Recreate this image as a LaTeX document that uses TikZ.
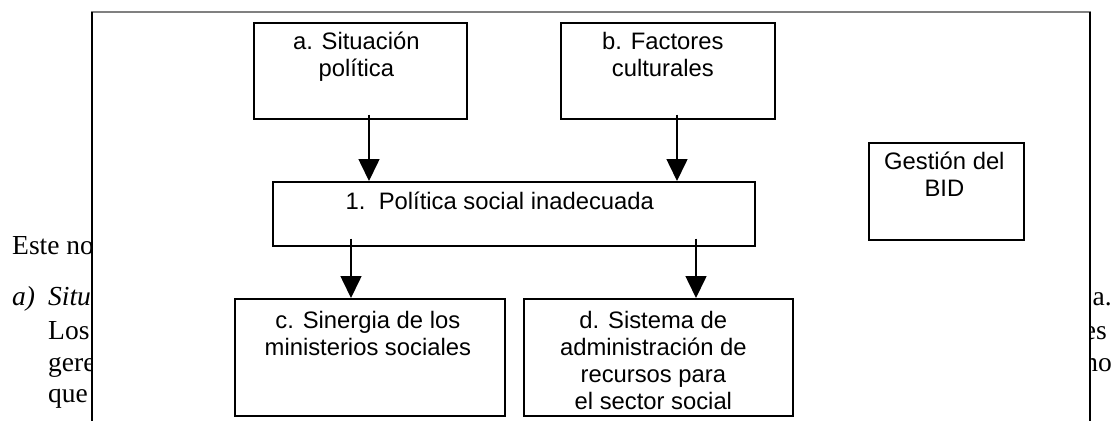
\documentclass[tikz,border=0pt]{standalone}
\usepackage{fontspec}
\setmainfont{Liberation Serif}
\newfontfamily\arial{Liberation Sans}
\usetikzlibrary{positioning, arrows.meta}
\definecolor{marco}{HTML}{808080}
\tikzstyle{Caja} = [draw, line width=1.7pt, anchor=north west, inner sep=0pt]
\tikzstyle{Texto} = [font=\arial\fontsize{23.8}{27}\selectfont, align=center, inner sep=0pt]
\tikzstyle{Cuerpo} = [font=\fontsize{27.5}{31}\selectfont, inner sep=0pt, anchor=base west]
\tikzstyle{Flecha} = [line width=1.6pt, -{Triangle[length=22pt, width=21pt]}]

\begin{document}
\begin{tikzpicture}[x=1pt, y=-1pt]
    \clip (0,0) rectangle (1115,420);
    \node[Cuerpo] (este) at (12,254) {Este no};
    \node[Cuerpo] (ia) at (12,305) {\textit{a)}};
    \node[Cuerpo] (situ) at (48,305) {\textit{Situ}};
    \node[Cuerpo] (los) at (48,339) {Los};
    \node[Cuerpo] (gere) at (48,371) {gere};
    \node[Cuerpo] (que) at (48,402) {que};
    \node[Cuerpo, anchor=base east] (ra) at (1112,305) {a.};
    \node[Cuerpo, anchor=base east] (res) at (1107,339) {es};
    \node[Cuerpo, anchor=base east] (rno) at (1112,371) {no};
    \fill[white] (92,12) rectangle (1090,440);
    \draw[line width=2pt, marco] (91,12) -- (1091,12);
    \draw[line width=1.5pt] (92,12) -- (92,440) (1090,12) -- (1090,440);
    \node[Caja, minimum width=213pt, minimum height=96pt] (sit) at (253,22) {};
    \node[Caja, minimum width=214pt, minimum height=96pt] (fac) at (560,22) {};
    \node[Caja, minimum width=482pt, minimum height=64pt] (pol) at (272,181) {};
    \node[Caja, minimum width=270pt, minimum height=117pt] (sin) at (234,298) {};
    \node[Caja, minimum width=269pt, minimum height=117pt] (sis) at (523,298) {};
    \node[Caja, minimum width=155pt, minimum height=97pt] (bid) at (868,142) {};
    \node[Texto, below=10pt of sit.north, xshift=-4pt] (tsit) {a. Situación\\política};
    \node[Texto, below=10pt of fac.north, xshift=-5pt] (tfac) {b. Factores\\culturales};
    \node[Texto, below=11pt of pol.north, xshift=-14pt] (tpol) {1.\ \ Política social inadecuada};
    \node[Texto, below=13pt of sin.north, xshift=-2pt] (tsin) {c. Sinergia de los\\ministerios sociales};
    \node[Texto, below=13pt of sis.north, xshift=-5pt] (tsis) {d. Sistema de\\administración de\\recursos para\\el sector social};
    \node[Texto, below=10pt of bid.north, xshift=-2pt] (tbid) {Gestión del\\BID};
    \draw[Flecha] ([yshift=5pt]sit.south -| 369,0) -- (369,0 |- pol.north);
    \draw[Flecha] ([yshift=5pt]fac.south -| 677,0) -- (677,0 |- pol.north);
    \draw[Flecha] ([yshift=8pt]pol.south -| 351,0) -- (351,0 |- sin.north);
    \draw[Flecha] ([yshift=8pt]pol.south -| 696,0) -- (696,0 |- sis.north);
\end{tikzpicture}
\end{document}
